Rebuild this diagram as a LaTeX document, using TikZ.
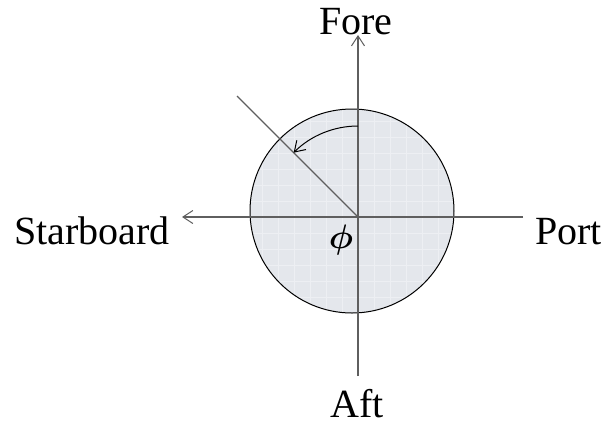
\documentclass[tikz,border=0pt]{standalone}
\usepackage{fontspec}
\setmainfont{Liberation Serif}
\usepackage{xcolor}
\usetikzlibrary{arrows.meta}
\definecolor{discfill}{RGB}{228,231,236}
\definecolor{axisgray}{RGB}{95,95,95}

\begin{document}
\begin{tikzpicture}[x=1pt,y=-1pt,
  lbl/.style={inner sep=0pt,font=\fontsize{40}{40}\selectfont},
  axis/.style={draw=axisgray,line width=1.1pt},
  tip/.style={-{Straight Barb[length=10pt,width=13pt,line width=1pt]}}]
\useasboundingbox (0,0) rectangle (613,424);
% disc
\fill[discfill] (352,211) circle(102);
\begin{scope}
\clip (352,211) circle(102);
\foreach \g in {0,...,14} {
  \draw[white!35!discfill,line width=0.6pt] (246+16*\g,100) -- (246+16*\g,320);
  \draw[white!35!discfill,line width=0.6pt] (240,105+16*\g) -- (470,105+16*\g);
}
\end{scope}
\draw[line width=1pt] (352,211) circle(102);
% points
\coordinate (O) at (358,217);
\coordinate (foreend) at (358,35);
\coordinate (aftend) at (358,376);
\coordinate (stbdend) at (182,217);
\coordinate (portend) at (523,217);
\coordinate (ray) at (237,96);
% labels
\node[lbl,anchor=base] (fore) at (356,34) {Fore};
\node[lbl,anchor=base] (aft) at (357,417) {Aft};
\node[lbl,anchor=base west] (starboard) at (14,244) {Starboard};
\node[lbl,anchor=base west] (port) at (535,244) {Port};
\node[inner sep=0pt] (phi) at (341,240) {\scalebox{3.4}{\boldmath$\phi$}};
% axes
\draw[axis,tip] (aftend) -- (foreend);
\draw[axis,tip] (portend) -- (stbdend);
\draw[axis] (O) -- (ray);
% heading angle
\draw[line width=1pt,tip] (O) ++(-90:91) arc[start angle=-90,end angle=-135,radius=91];
\end{tikzpicture}
\end{document}
